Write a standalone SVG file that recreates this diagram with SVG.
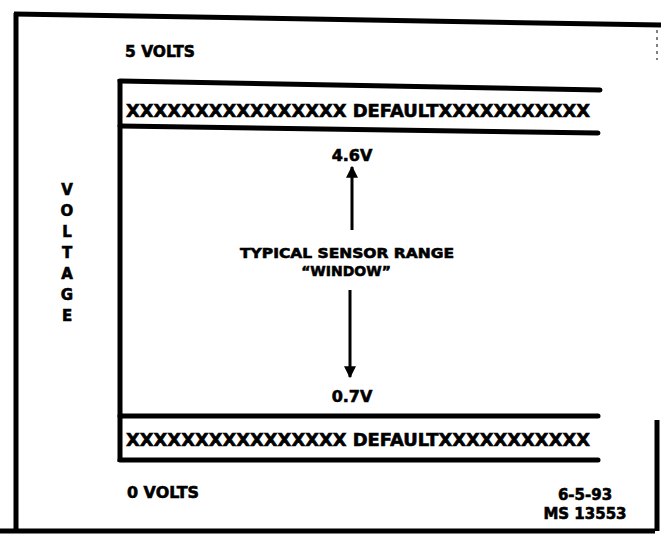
<svg xmlns="http://www.w3.org/2000/svg" width="661" height="536" viewBox="0 0 661 536">
<style>
.ln{stroke:#000;stroke-width:5;stroke-linecap:round;fill:none}
.fr{stroke:#000;stroke-width:5;fill:none}
.t{font-family:"DejaVu Sans","Liberation Sans",sans-serif;font-weight:bold;fill:#000;stroke:#000;stroke-width:0.6}
</style>
<defs>
<marker id="ah" viewBox="0 0 10 10" refX="9" refY="5" markerWidth="4" markerHeight="4" orient="auto">
<path d="M0,0 L10,5 L0,10 z" fill="#000"/>
</marker>
</defs>
<rect width="661" height="536" fill="#fff"/>
<g id="frame">
<path class="fr" d="M14,14 L661,25"/>
<path class="fr" d="M16,13 L16,532"/>
<path class="fr" d="M0,531 L655,531"/>
<path class="fr" d="M657,420 L657,531"/>
<path d="M657,30 L657,60" stroke="#000" stroke-width="1" stroke-dasharray="3,4"/>
</g>
<g id="axis">
<path class="fr" d="M120,79 L120,462"/>
</g>
<g id="top-band">
<path class="ln" d="M120,81 L600,90"/>
<path class="ln" d="M120,126 L598,133"/>
<text class="t" x="126" y="117" font-size="17" textLength="464" lengthAdjust="spacingAndGlyphs">XXXXXXXXXXXXXXXX DEFAULTXXXXXXXXXXX</text>
</g>
<g id="bottom-band">
<path class="ln" d="M120,416 L598,416"/>
<path class="ln" d="M120,460 L598,460"/>
<text class="t" x="126" y="446" font-size="17" textLength="464" lengthAdjust="spacingAndGlyphs">XXXXXXXXXXXXXXXX DEFAULTXXXXXXXXXXX</text>
</g>
<g id="labels">
<text class="t" x="125" y="57" font-size="16" textLength="70" lengthAdjust="spacingAndGlyphs">5 VOLTS</text>
<text class="t" x="127" y="498" font-size="16" textLength="72" lengthAdjust="spacingAndGlyphs">0 VOLTS</text>
<text class="t" x="585" y="500" font-size="15" text-anchor="middle">6-5-93</text>
<text class="t" x="585" y="519" font-size="15" text-anchor="middle">MS 13553</text>
<g class="t" font-size="15" text-anchor="middle">
<text x="67" y="195">V</text>
<text x="67" y="216">O</text>
<text x="67" y="237">L</text>
<text x="67" y="258">T</text>
<text x="67" y="279">A</text>
<text x="67" y="300">G</text>
<text x="67" y="321">E</text>
</g>
</g>
<g id="window">
<text class="t" x="352" y="161" font-size="16" text-anchor="middle">4.6V</text>
<text class="t" x="347" y="258" font-size="14" text-anchor="middle" textLength="214" lengthAdjust="spacingAndGlyphs">TYPICAL SENSOR RANGE</text>
<text class="t" x="346" y="276" font-size="14" text-anchor="middle">“WINDOW”</text>
<text class="t" x="352" y="402" font-size="16" text-anchor="middle">0.7V</text>
</g>
<g id="connectors">
<path d="M352,230 L352,167" stroke="#000" stroke-width="3" marker-end="url(#ah)"/>
<path d="M350,290 L350,377" stroke="#000" stroke-width="3" marker-end="url(#ah)"/>
</g>
</svg>
